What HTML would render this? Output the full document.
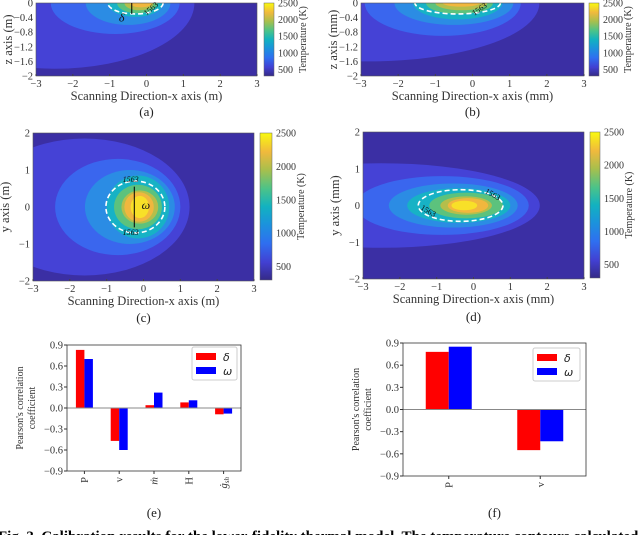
<!DOCTYPE html>
<html><head><meta charset="utf-8">
<style>
html,body{margin:0;padding:0;background:#fff;}
svg{display:block;font-family:"Liberation Serif",serif;}
</style></head>
<body>
<svg id="fig" width="640" height="535" viewBox="0 0 640 535" xmlns="http://www.w3.org/2000/svg">
<defs>
<linearGradient id="parula" x1="0" y1="1" x2="0" y2="0">
<stop offset="0" stop-color="#352a87"/>
<stop offset="0.12" stop-color="#4240d2"/>
<stop offset="0.25" stop-color="#2f6ff0"/>
<stop offset="0.38" stop-color="#1b93dc"/>
<stop offset="0.5" stop-color="#12b2c0"/>
<stop offset="0.62" stop-color="#4bc389"/>
<stop offset="0.75" stop-color="#a9bf4c"/>
<stop offset="0.87" stop-color="#f0b93d"/>
<stop offset="1" stop-color="#f9f90f"/>
</linearGradient>
</defs>
<g id="maps"></g>
<g id="bars"></g>
<text x="-2" y="541" font-size="15" font-weight="bold">Fig. 3. Calibration results for the lower-fidelity thermal model. The temperature contours calculated</text>
</svg>
<script>
const NS="http://www.w3.org/2000/svg";
const svg=document.getElementById('fig');
function mk(tag,attrs,parent,txt){const e=document.createElementNS(NS,tag);for(const k in attrs)e.setAttribute(k,attrs[k]);if(txt!==undefined)e.textContent=txt;(parent||svg).appendChild(e);return e;}

// ---- contour map data (level ellipses: cx, cy, rx, ry in data units) ----
const levelColors=["#3b2fa4","#4542d6","#3a66ee","#2b8ce4","#17b2c5","#5cc27d","#b5be4b","#f1b73e","#f8e028"];
const mapA=[[-2.5,0,3.8,1.8],[-0.85,0,1.75,0.85],[-0.5,0,1.15,0.6],[-0.3,0,0.75,0.38],[-0.25,0,0.55,0.28],[-0.2,0,0.4,0.2],[-0.15,0,0.3,0.12]];
const dashA=[-0.3,0,0.75,0.3];
const mapB=[[-2.8,0,4.6,1.6],[-0.8,0,2.1,0.9],[-0.5,0,1.6,0.6],[-0.4,0,1.2,0.45],[-0.35,0,0.9,0.3],[-0.3,0,0.7,0.2],[-0.3,0,0.5,0.1]];
const dashB=[-0.4,0,1.15,0.3];
const mapC=[[-1.6,0,2.85,1.85],[-0.7,0,1.7,1.3],[-0.37,0,1.22,1.0],[-0.15,0,0.85,0.85],[-0.15,0,0.65,0.6],[-0.1,0,0.5,0.45],[-0.12,0,0.4,0.4],[-0.1,0,0.25,0.3]];
const dashC=[-0.22,0,0.8,0.7];
const mapD=[[-2.5,0,4.3,1.15],[-0.85,0,2.35,0.8],[-0.55,0,1.75,0.6],[-0.4,0,1.4,0.47],[-0.2,0,1.0,0.35],[-0.2,0,0.7,0.25],[-0.15,0,0.55,0.2],[-0.25,0,0.35,0.13]];
const dashD=[-0.35,0,1.15,0.43];
const xTicksMap=[-3,-2,-1,0,1,2,3];
const zTicks=[0,-0.4,-0.8,-1.2,-1.6,-2];
const yTicksMap=[2,1,0,-1,-2];
const cbTicks=[500,1000,1500,2000,2500];

function drawMap(id,r,ydom,levels,dash,yt,xlab,ylab,tag,label,cb){
  const g=mk('g',{},document.getElementById('maps'));
  const sx=v=>r.x+(v+3)/6*r.w;
  const sy=v=>r.y+(ydom[1]-v)/(ydom[1]-ydom[0])*r.h;
  const kx=r.w/6, ky=r.h/(ydom[1]-ydom[0]);
  const cp=mk('clipPath',{id:'clip-'+id},g);
  mk('rect',{x:r.x,y:r.y,width:r.w,height:r.h},cp);
  const pg=mk('g',{'clip-path':'url(#clip-'+id+')'},g);
  mk('rect',{x:r.x,y:r.y,width:r.w,height:r.h,fill:levelColors[0]},pg);
  levels.forEach((L,i)=>{
    const e=mk('ellipse',{cx:sx(L[0]),cy:sy(L[1]),rx:L[2]*kx,ry:L[3]*ky,fill:levelColors[i+1]},pg);
    
    
  });
  const de=mk('ellipse',{cx:sx(dash[0]),cy:sy(dash[1]),rx:dash[2]*kx,ry:dash[3]*ky,fill:'none',stroke:'#fff','stroke-width':1.6,'stroke-dasharray':'5,3'},pg);
  
  
  mk('rect',{x:r.x,y:r.y,width:r.w,height:r.h,fill:'none',stroke:'#555','stroke-width':0.6},g);
  xTicksMap.forEach(t=>{
    mk('line',{x1:sx(t),x2:sx(t),y1:r.y+r.h,y2:r.y+r.h-2,stroke:'#444'},g);
    const s=t<0?'\u2212'+(-t):''+t;
    mk('text',{x:sx(t),y:r.y+r.h+11,'font-size':10.5,'text-anchor':'middle',fill:'#333'},g,s);
  });
  yt.forEach(t=>{
    const s=t<0?'\u2212'+(-t):''+t;
    mk('text',{x:r.x-3,y:sy(t)+3.5,'font-size':10.5,'text-anchor':'end',fill:'#333'},g,s);
  });
  mk('text',{x:r.x+r.w/2,y:r.y+r.h+24,'font-size':12.5,'text-anchor':'middle',fill:'#333',},g,xlab);
  mk('text',{transform:`translate(${r.x-24},${r.y+r.h/2}) rotate(-90)`,'font-size':12.5,'text-anchor':'middle',fill:'#333',},g,ylab);
  mk('text',{x:r.x+r.w/2,y:tag,'font-size':13,'text-anchor':'middle',fill:'#222',},g,label);
  const cg=mk('g',{},g);
  mk('rect',{x:cb.x,y:cb.y,width:cb.w,height:cb.h,fill:'url(#parula)',stroke:'#666','stroke-width':0.5},cg);
  const cy=v=>cb.y+(2500-v)/(2500-300)*cb.h;
  cbTicks.forEach(t=>mk('text',{x:cb.x+cb.w+4,y:cy(t)+3.5,'font-size':10,fill:'#333'},cg,''+t));
  mk('text',{transform:`translate(${cb.x+cb.w+32},${cb.y+cb.h/2}) rotate(-90)`,'font-size':10,'text-anchor':'middle',fill:'#333'},cg,'Temperature (K)');
  return {sx,sy,g};
}
const a=drawMap('panel-a-map',{x:36,y:3,w:221,h:73},[-2,0],mapA,dashA,zTicks,'Scanning Direction-x axis (m)','z axis (m)',116,'(a)',{x:264,y:3,w:10,h:73});
mk('text',{x:a.sx(0.0),y:a.sy(-0.35),'font-size':8,fill:'#111',transform:`rotate(-40 ${a.sx(0.0)} ${a.sy(-0.35)})`},a.g,'1563');
mk('line',{x1:a.sx(-0.4),x2:a.sx(-0.4),y1:a.sy(0),y2:a.sy(-0.3),stroke:'#000','stroke-width':1},a.g);
mk('text',{x:a.sx(-0.75),y:a.sy(-0.5),'font-size':12,'font-style':'italic',fill:'#111'},a.g,'δ');
const b=drawMap('panel-b-map',{x:361,y:3,w:223,h:73},[-2,0],mapB,dashB,zTicks,'Scanning Direction-x axis (mm)','z axis (mm)',116,'(b)',{x:589,y:3,w:10,h:73});
mk('text',{x:b.sx(0.05),y:b.sy(-0.35),'font-size':8,fill:'#111',transform:`rotate(-35 ${b.sx(0.05)} ${b.sy(-0.35)})`},b.g,'1563');
const c=drawMap('panel-c-map',{x:33,y:133,w:221,h:148},[-2,2],mapC,dashC,yTicksMap,'Scanning Direction-x axis (m)','y axis (m)',322,'(c)',{x:260,y:133,w:12,h:147});
mk('text',{x:c.sx(-0.35),y:c.sy(0.68),'font-size':8,fill:'#111','font-style':'italic','text-anchor':'middle'},c.g,'1563');
mk('text',{x:c.sx(-0.35),y:c.sy(-0.75),'font-size':8,fill:'#111','font-style':'italic','text-anchor':'middle'},c.g,'1563');
mk('line',{x1:c.sx(-0.25),x2:c.sx(-0.25),y1:c.sy(0.55),y2:c.sy(-0.55),stroke:'#000','stroke-width':1},c.g);
mk('text',{x:c.sx(-0.05),y:c.sy(-0.05),'font-size':12,'font-style':'italic',fill:'#111'},c.g,'ω');
const d=drawMap('panel-d-map',{x:363,y:132,w:221,h:147},[-2,2],mapD,dashD,yTicksMap,'Scanning Direction-x axis (mm)','y axis (mm)',321,'(d)',{x:590,y:132,w:10,h:146});
mk('text',{x:d.sx(0.3),y:d.sy(0.35),'font-size':8,fill:'#111',transform:`rotate(30 ${d.sx(0.3)} ${d.sy(0.35)})`},d.g,'1563');
mk('text',{x:d.sx(-1.45),y:d.sy(-0.1),'font-size':8,fill:'#111',transform:`rotate(30 ${d.sx(-1.45)} ${d.sy(-0.1)})`},d.g,'1563');

// ---- bar chart data ----
const catsE=['P','v','ṁ','H','ġ'];
const deltaE=[0.83,-0.47,0.04,0.08,-0.09];
const omegaE=[0.70,-0.60,0.22,0.11,-0.08];
const catsF=['P','v'];
const deltaF=[0.78,-0.55];
const omegaF=[0.85,-0.43];
const barTicks=[0.9,0.6,0.3,0.0,-0.3,-0.6,-0.9];

function drawBars(id,r,cats,d1,d2,bw,leg,label){
  const g=mk('g',{},document.getElementById('bars'));
  const sy=v=>r.y+(0.9-v)/1.8*r.h;
  const step=r.w/cats.length;
  const sx=i=>r.x+step*(i+0.5);
  barTicks.forEach(t=>{
    mk('line',{x1:r.x-3,x2:r.x,y1:sy(t),y2:sy(t),stroke:'#333'},g);
    const s=t<0?'\u2212'+(-t).toFixed(1):t.toFixed(1);
    mk('text',{x:r.x-4,y:sy(t)+3.5,'font-size':10.5,'text-anchor':'end',fill:'#333'},g,s);
  });
  cats.forEach((c,i)=>{
    const r1=mk('rect',{x:sx(i)-bw,y:Math.min(sy(0),sy(d1[i])),width:bw,height:Math.abs(sy(d1[i])-sy(0)),fill:'#ff0000'},g);
    
    
    const r2=mk('rect',{x:sx(i),y:Math.min(sy(0),sy(d2[i])),width:bw,height:Math.abs(sy(d2[i])-sy(0)),fill:'#0000ff'},g);
    
    
    mk('line',{x1:sx(i),x2:sx(i),y1:r.y+r.h,y2:r.y+r.h+3,stroke:'#333'},g);
    const tx=sx(i)+3.5, ty=r.y+r.h+6;
    const t=mk('text',{transform:`translate(${tx},${ty}) rotate(-90)`,'font-size':10.5,'text-anchor':'end',fill:'#333'},g,c);
    if(c==='ġ'){mk('tspan',{'font-size':7,dy:2},t,'sh');t.setAttribute('font-style','italic');}
    if(c==='ṁ')t.setAttribute('font-style','italic');
  });
  mk('line',{x1:r.x,x2:r.x+r.w,y1:sy(0),y2:sy(0),stroke:'#888','stroke-width':1},g);
  mk('rect',{x:r.x,y:r.y,width:r.w,height:r.h,fill:'none',stroke:'#333','stroke-width':0.8},g);
  const yl=mk('text',{transform:`translate(${r.x-44},${r.y+r.h/2}) rotate(-90)`,'font-size':10,'text-anchor':'middle',fill:'#333',},g);
  mk('tspan',{x:0,dy:0},yl,"Pearson's correlation");
  mk('tspan',{x:0,dy:12},yl,'coefficient');
  const lg=mk('g',{},g);
  mk('rect',{x:leg.x,y:leg.y,width:leg.w,height:33,fill:'#fff',stroke:'#ccc',rx:2},lg);
  mk('rect',{x:leg.x+4,y:leg.y+6,width:20,height:7,fill:'#ff0000'},lg);
  mk('text',{x:leg.x+31,y:leg.y+14,'font-size':11,'font-style':'italic','font-family':'DejaVu Sans, sans-serif',fill:'#222'},lg,'δ');
  mk('rect',{x:leg.x+4,y:leg.y+20,width:20,height:7,fill:'#0000ff'},lg);
  mk('text',{x:leg.x+31,y:leg.y+28,'font-size':11,'font-style':'italic','font-family':'DejaVu Sans, sans-serif',fill:'#222'},lg,'ω');
  mk('text',{x:r.x+r.w/2,y:517,'font-size':13,'text-anchor':'middle',fill:'#222',},g,label);
}
drawBars('panel-e-bars',{x:67,y:345,w:174,h:126},catsE,deltaE,omegaE,8.5,{x:192,y:347,w:45},'(e)');
drawBars('panel-f-bars',{x:403,y:343,w:183,h:133},catsF,deltaF,omegaF,23,{x:533,y:348,w:47},'(f)');
</script>
</body></html>
